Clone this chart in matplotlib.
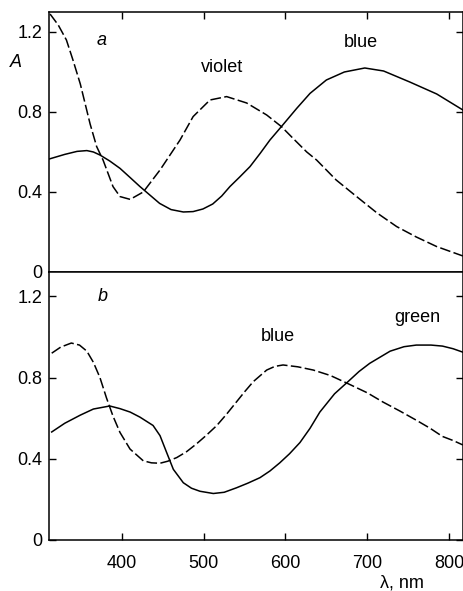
import matplotlib
matplotlib.use("Agg")
import matplotlib.pyplot as plt

plt.rcParams['font.family'] = ['Liberation Sans', 'DejaVu Sans']

# panel a: blue (solid) and violet (dashed)
wl_a_blue = [311, 330, 345, 357, 365, 373, 385, 397.6, 410, 422, 434, 446,
             460, 475, 487, 499, 511, 522, 532, 544, 556.6, 569, 581, 595,
             613.7, 630, 650, 672, 697, 720, 752, 785, 817]
A_a_blue = [0.565, 0.588, 0.603, 0.607, 0.60, 0.585, 0.555, 0.518, 0.472,
            0.427, 0.385, 0.343, 0.312, 0.30, 0.302, 0.315, 0.34, 0.38, 0.427,
            0.475, 0.527, 0.593, 0.66, 0.727, 0.818, 0.893, 0.96, 1.0, 1.02,
            1.005, 0.95, 0.89, 0.81]

wl_a_violet = [312, 322, 332, 340, 349, 355, 361, 369, 376.8, 389, 397.6, 410,
               426, 446.5, 471, 487, 507.6, 528, 552.5, 577, 595, 610, 626,
               638, 662, 687, 712, 736, 760, 785, 817]
A_a_violet = [1.29, 1.235, 1.16, 1.06, 0.94, 0.84, 0.74, 0.627, 0.56, 0.427,
              0.377, 0.363, 0.40, 0.51, 0.66, 0.777, 0.86, 0.877, 0.845, 0.785,
              0.727, 0.665, 0.60, 0.56, 0.46, 0.377, 0.295, 0.227, 0.175,
              0.127, 0.08]

# panel b: green (solid) and blue (dashed)
wl_b_green = [314, 330, 349, 365, 385, 397.5, 410, 422, 438, 446.5, 454.7,
              462.8, 475, 485, 495.4, 511.7, 525, 540, 554, 568.8, 581, 593,
              605, 617.7, 630, 642, 660, 676.5, 690, 703, 728, 745, 760, 778,
              792, 805, 817]
A_b_green = [0.532, 0.575, 0.615, 0.645, 0.66, 0.647, 0.63, 0.605, 0.564,
             0.514, 0.43, 0.348, 0.282, 0.255, 0.24, 0.229, 0.235, 0.257, 0.28,
             0.307, 0.34, 0.38, 0.425, 0.48, 0.55, 0.63, 0.72, 0.78, 0.83,
             0.87, 0.93, 0.952, 0.96, 0.96, 0.955, 0.942, 0.925]

wl_b_blue = [314, 325, 338, 348, 357, 365, 373, 381, 389, 397.5, 409.8, 426,
             436, 446.5, 456, 467, 479, 491, 503, 516, 528, 540, 550, 560.6,
             577, 587, 597, 615, 634, 655, 676.5, 700, 719, 740, 760, 777, 792,
             805, 817]
A_b_blue = [0.92, 0.95, 0.97, 0.96, 0.93, 0.875, 0.80, 0.70, 0.61, 0.53,
            0.448, 0.39, 0.38, 0.378, 0.388, 0.406, 0.435, 0.473, 0.515, 0.564,
            0.62, 0.68, 0.73, 0.78, 0.837, 0.855, 0.862, 0.853, 0.837, 0.81,
            0.77, 0.725, 0.68, 0.635, 0.59, 0.55, 0.51, 0.49, 0.468]

yticks = [0, 0.4, 0.8, 1.2]
yticklabels = ["0", "0.4", "0.8", "1.2"]
xticks = [400, 500, 600, 700, 800]

fig = plt.figure(figsize=(4.64, 5.91), dpi=100)
ax_a = fig.add_axes([0.1056, 0.5398, 0.892, 0.4399])
ax_b = fig.add_axes([0.1056, 0.0863, 0.892, 0.4535])

dash = (0, (7, 2.2))
ax_a.plot(wl_a_blue, A_a_blue, color='black', lw=1.1)
ax_a.plot(wl_a_violet, A_a_violet, color='black', lw=1.1, linestyle=dash)
ax_b.plot(wl_b_green, A_b_green, color='black', lw=1.1)
ax_b.plot(wl_b_blue, A_b_blue, color='black', lw=1.1, linestyle=dash)

ax_a.set_ylim(0, 1.3)
ax_b.set_ylim(0, 1.32)
for ax in (ax_a, ax_b):
    ax.set_xlim(310.7, 817)
    ax.set_yticks(yticks)
    ax.set_yticklabels(yticklabels)
    ax.set_xticks(xticks)
    for sp in ax.spines.values():
        sp.set_linewidth(1.1)
    ax.tick_params(direction='in', length=5, width=1.0, labelsize=13,
                   right=True)
    ax.tick_params(axis='y', pad=5)
    ax.tick_params(axis='x', pad=11)

ax_a.tick_params(axis='x', top=True, bottom=False, labelbottom=False)
ax_b.tick_params(axis='x', top=False, bottom=True)

ax_a.text(-0.080, 0.804, "A", transform=ax_a.transAxes, fontsize=13,
          style='italic', ha='center', va='center')
ax_a.text(0.128, 0.892, "a", transform=ax_a.transAxes, fontsize=13,
          style='italic', ha='center', va='center')
ax_b.text(0.130, 0.907, "b", transform=ax_b.transAxes, fontsize=13,
          style='italic', ha='center', va='center')

ax_a.text(0.418, 0.785, "violet", transform=ax_a.transAxes, fontsize=13,
          ha='center', va='center')
ax_a.text(0.754, 0.883, "blue", transform=ax_a.transAxes, fontsize=13,
          ha='center', va='center')
ax_b.text(0.552, 0.759, "blue", transform=ax_b.transAxes, fontsize=13,
          ha='center', va='center')
ax_b.text(0.889, 0.829, "green", transform=ax_b.transAxes, fontsize=13,
          ha='center', va='center')

fig.text(402 / 464, 1 - 583 / 591, "λ, nm", fontsize=13, ha='center', va='center')

fig.savefig("out.png", dpi=100)
